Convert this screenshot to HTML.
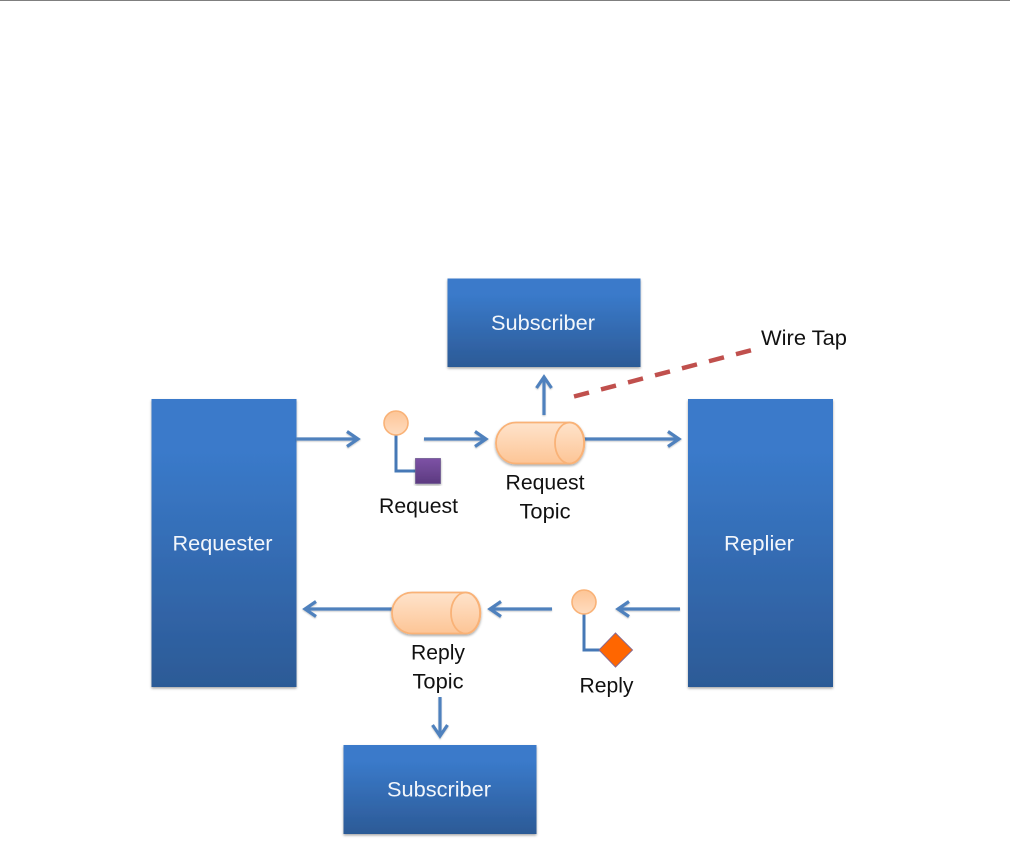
<!DOCTYPE html>
<html lang="en">
<head>
<meta charset="utf-8">
<title>Wire Tap diagram</title>
<style>
html,body{margin:0;padding:0;background:#fff;width:1010px;height:854px;overflow:hidden}
svg{display:block}
text{font-family:"Liberation Sans",sans-serif;font-size:21px}
.w{fill:#f2f6fb;text-anchor:middle}
.k{fill:#111;text-anchor:middle}
.a{fill:none;stroke:#4f81bd;stroke-width:3.200;filter:url(#ls)}
</style>
</head>
<body>
<svg width="1010" height="854" viewBox="0 0 1010 854" xmlns="http://www.w3.org/2000/svg">
<defs>
<linearGradient id="b" x1="0" y1="0" x2="0" y2="1"><stop offset="0.18" stop-color="#3a7aca"/><stop offset="1" stop-color="#2c5a96"/></linearGradient>
<linearGradient id="o" x1="0" y1="0" x2="0" y2="1"><stop offset="0" stop-color="#fdc596"/><stop offset="1" stop-color="#fedcc0"/></linearGradient>
<linearGradient id="c" x1="0" y1="0" x2="0" y2="1"><stop offset="0" stop-color="#fee3cb"/><stop offset="1" stop-color="#fdc596"/></linearGradient>
<linearGradient id="p" x1="0" y1="0" x2="0" y2="1"><stop offset="0" stop-color="#7d52a5"/><stop offset="1" stop-color="#5c3a80"/></linearGradient>
<filter id="s" x="-10%" y="-10%" width="120%" height="120%"><feDropShadow dx="0" dy="1.5" stdDeviation="1.2" flood-color="#000" flood-opacity=".35"/></filter>
<filter id="ls" x="0" y="0" width="1010" height="854" filterUnits="userSpaceOnUse"><feGaussianBlur in="SourceGraphic" stdDeviation=".35" result="g"/><feDropShadow in="g" dx="0" dy="1" stdDeviation=".7" flood-color="#000" flood-opacity=".22"/></filter>
</defs>

<rect x="0" y="0" width="1010" height="1" fill="#7f7f7f"/>

<rect x="151.500" y="399" width="145" height="288" fill="url(#b)" filter="url(#s)"/>
<rect x="688" y="399" width="145" height="288" fill="url(#b)" filter="url(#s)"/>
<rect x="447.500" y="278.500" width="193" height="88.500" fill="url(#b)" filter="url(#s)"/>
<rect x="343.500" y="745" width="193" height="89" fill="url(#b)" filter="url(#s)"/>

<text class="w" x="222.500" y="550.500" textLength="100" lengthAdjust="spacingAndGlyphs">Requester</text>
<text class="w" x="759" y="550.500" textLength="70" lengthAdjust="spacingAndGlyphs">Replier</text>
<text class="w" x="543" y="330" textLength="104" lengthAdjust="spacingAndGlyphs">Subscriber</text>
<text class="w" x="439" y="796.500" textLength="104" lengthAdjust="spacingAndGlyphs">Subscriber</text>

<!-- Request arrows -->
<path class="a" d="M296 439H358M347 431.500L358 439L347 446.500"/>
<path class="a" d="M424 439H486M475 431.500L486 439L475 446.500"/>
<path class="a" d="M584 439H679M668 431.500L679 439L668 446.500"/>
<path class="a" d="M544 415V377M536.500 388L544 377L551.500 388"/>

<!-- Reply arrows -->
<path class="a" d="M392 609H305M316 601.500L305 609L316 616.500"/>
<path class="a" d="M552 609H490M501 601.500L490 609L501 616.500"/>
<path class="a" d="M680 609H618M629 601.500L618 609L629 616.500"/>
<path class="a" d="M440 697V736M432.500 725L440 736L447.500 725"/>

<!-- Wire tap -->
<path d="M574 396.500L752 350" fill="none" stroke="#c0504d" stroke-width="4.500" stroke-dasharray="15.500 12.400"/>

<!-- Request message -->
<path d="M396 434V471H416" fill="none" stroke="#4678b6" stroke-width="3"/>
<circle cx="396" cy="423" r="12" fill="url(#o)" stroke="#f9b277" stroke-width="1.600"/>
<rect x="415.500" y="458.500" width="25" height="25" fill="url(#p)" stroke="#6f5a90" stroke-width=".8" filter="url(#s)"/>

<!-- Reply message -->
<path d="M584 614V650H602" fill="none" stroke="#4678b6" stroke-width="3"/>
<circle cx="584" cy="602" r="12" fill="url(#o)" stroke="#f9b277" stroke-width="1.600"/>
<path d="M615.500 633L632.500 650L615.500 667L599 650Z" fill="#ff6600" stroke="#8a6a90" stroke-width="1"/>

<!-- Request Topic cylinder -->
<path d="M516 422.500H570A14 20 0 0 1 570 463.500H516A20 20.500 0 0 1 516 422.500Z" fill="url(#c)" stroke="#f9b277" stroke-width="1.800" filter="url(#s)"/>
<ellipse cx="569.500" cy="443" rx="14.500" ry="20.500" fill="url(#c)" stroke="#f9b277" stroke-width="1.800"/>

<!-- Reply Topic cylinder -->
<path d="M412 592.500H466A14 20 0 0 1 466 633.500H412A20 20.500 0 0 1 412 592.500Z" fill="url(#c)" stroke="#f9b277" stroke-width="1.800" filter="url(#s)"/>
<ellipse cx="465.500" cy="613" rx="14.500" ry="20.500" fill="url(#c)" stroke="#f9b277" stroke-width="1.800"/>

<!-- Labels -->
<text class="k" x="418.500" y="513" textLength="79" lengthAdjust="spacingAndGlyphs">Request</text>
<text class="k" x="545" y="489.500" textLength="79" lengthAdjust="spacingAndGlyphs">Request</text>
<text class="k" x="545" y="518.500" textLength="51" lengthAdjust="spacingAndGlyphs">Topic</text>
<text class="k" x="438" y="659.500" textLength="54" lengthAdjust="spacingAndGlyphs">Reply</text>
<text class="k" x="438" y="688.500" textLength="51" lengthAdjust="spacingAndGlyphs">Topic</text>
<text class="k" x="606.500" y="692.500" textLength="54" lengthAdjust="spacingAndGlyphs">Reply</text>
<text class="k" x="804" y="345" textLength="86" lengthAdjust="spacingAndGlyphs">Wire Tap</text>
</svg>
</body>
</html>
